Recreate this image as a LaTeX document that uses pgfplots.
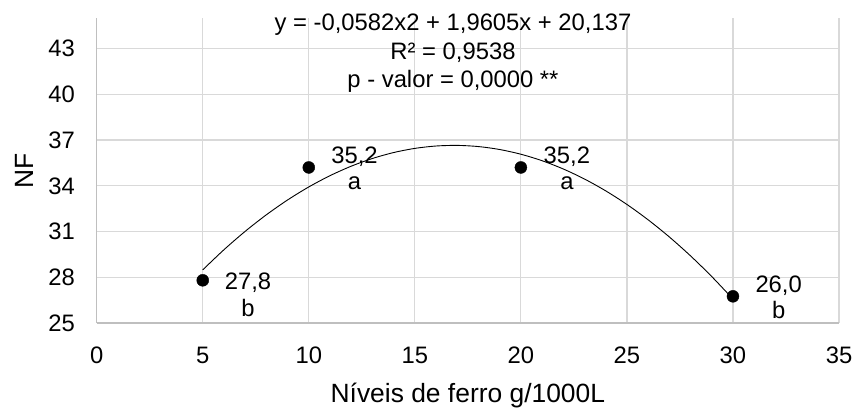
\documentclass[border=0pt]{standalone}
\usepackage{fontspec}
\setmainfont{Liberation Sans}
\usepackage{pgfplots}
\pgfplotsset{compat=1.18}
\definecolor{gridc}{HTML}{D9D9D9}
\definecolor{axc}{HTML}{BFBFBF}
\begin{document}
\fontsize{23.8bp}{28bp}\selectfont
\begin{tikzpicture}
\useasboundingbox (-96.7bp,-85bp) rectangle (759.3bp,323bp);
\begin{axis}[
  at={(0,0)}, anchor=south west,
  scale only axis, width=742.3bp, height=305bp,
  xmin=0, xmax=35, ymin=25, ymax=45,
  xtick={0,5,...,35}, ytick={25,28,...,43},
  axis x line*=bottom, axis y line*=left,
  axis line style={axc, line width=1.2bp, -},
  grid=major, major grid style={gridc, line width=1.2bp},
  major tick length=0pt,
  /pgf/number format/assume math mode=true,
  xticklabel style={anchor=base, inner sep=0pt, yshift=-40.5bp},
  yticklabel style={anchor=base east, inner sep=0pt, xshift=-21.7bp, yshift=-8.4bp},
  xlabel={Níveis de ferro g/1000L},
  ylabel={NF},
  label style={font=\fontsize{26.4bp}{30bp}\selectfont},
  xlabel style={at={(axis description cs:0.5,0)}, anchor=base, yshift=-79bp},
  ylabel style={at={(axis description cs:-0.0854,0.5)}, anchor=base},
  clip=false,
]
\addplot[black, line width=0.9bp, smooth, no marks] coordinates {
(5,28.4845)(6,29.8048)(7,31.0087)(8,32.0962)(9,33.0673)(10,33.922)
(11,34.6603)(12,35.2822)(13,35.7877)(14,36.1768)(15,36.4495)(16,36.6058)
(17,36.6457)(18,36.5692)(19,36.3763)(20,36.067)(21,35.6413)(22,35.0992)
(23,34.4407)(24,33.6658)(25,32.7745)(26,31.7668)(27,30.6427)(28,29.4022)
(29,28.0453)(30,26.572)};
\addplot[only marks, mark=*, mark size=6bp, black] coordinates {
(5,27.8)(10,35.2)(20,35.2)(30,26.75)};
\node[anchor=base] at (axis cs:16.8,44.17) {y = -0,0582x2 + 1,9605x + 20,137};
\node[anchor=base] at (axis cs:16.8,42.29) {R² = 0,9538};
\node[anchor=base] at (axis cs:16.8,40.46) {p - valor = 0,0000 **};
\node[anchor=base, xshift=45.3bp, yshift=-9bp] at (axis cs:5,27.8) {27,8};
\node[anchor=base, xshift=45.3bp, yshift=-36.3bp] at (axis cs:5,27.8) {b};
\node[anchor=base, xshift=45.7bp, yshift=4.4bp] at (axis cs:10,35.2) {35,2};
\node[anchor=base, xshift=45.7bp, yshift=-22.3bp] at (axis cs:10,35.2) {a};
\node[anchor=base, xshift=46bp, yshift=4.4bp] at (axis cs:20,35.2) {35,2};
\node[anchor=base, xshift=46bp, yshift=-22.3bp] at (axis cs:20,35.2) {a};
\node[anchor=base, xshift=45.7bp, yshift=4.3bp] at (axis cs:30,26.75) {26,0};
\node[anchor=base, xshift=45.7bp, yshift=-22.3bp] at (axis cs:30,26.75) {b};
\end{axis}
\end{tikzpicture}
\end{document}
